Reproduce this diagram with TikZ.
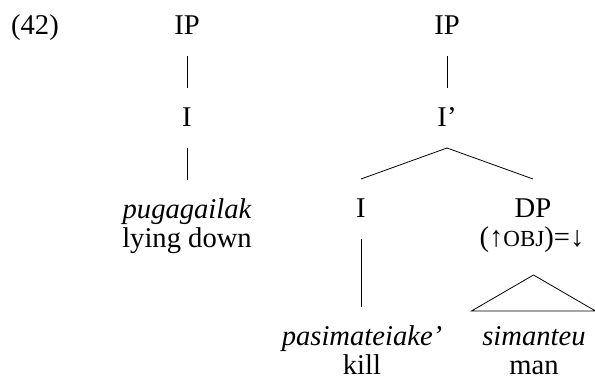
\documentclass[tikz,border=0pt]{standalone}
\usepackage{fontspec}
\setmainfont{Liberation Serif}
\tikzset{
  lbl/.style={anchor=base, inner sep=0pt, font=\fontsize{14.3}{17}\selectfont},
  cat/.style={lbl, text height=9pt, text depth=0pt, outer sep=10.5pt},
}
\begin{document}
\begin{tikzpicture}[x=0.5pt, y=-0.5pt]
\useasboundingbox (0,0) rectangle (595,383);
\node[lbl] (exnum) at (35,35){(42)};
% first tree
\node[cat] (ipa) at (187,35){IP};
\node[cat] (ia) at (187,127){I};
\node[cat] (puga) at (187,219){\itshape pugagailak};
\node[lbl] (lying) at (187,248){lying down};
\draw[](ipa) -- (ia);
\draw[](ia) -- (puga);
% second tree
\node[cat] (ipb) at (447,35){IP};
\node[cat] (ibar) at (447,127){I'};
\node[cat] (ib) at (361,218){I};
\node[cat] (dp) at (533,218){DP};
\node[lbl] (dpeq) at (532,247){(↑{\fontsize{11.5}{13}\selectfont OBJ})=↓};
\draw[](ipb) -- (ibar);
\draw[](ibar.south) -- (ib.north);
\draw[](ibar.south) -- (dp.north);
\node[cat] (pasi) at (362,346){\itshape pasimateiake'};
\node[lbl] (kill) at (362,375){kill};
\draw[](ib.south) -- (pasi.north -| ib.south);
\coordinate (roof) at (533.5,275);
\draw[](roof) -- +(-62,36) -- +(62,36) -- cycle;
\node[lbl] (sim) at (534,346){\itshape simanteu};
\node[lbl] (man) at (534,375){man};
\end{tikzpicture}
\end{document}
